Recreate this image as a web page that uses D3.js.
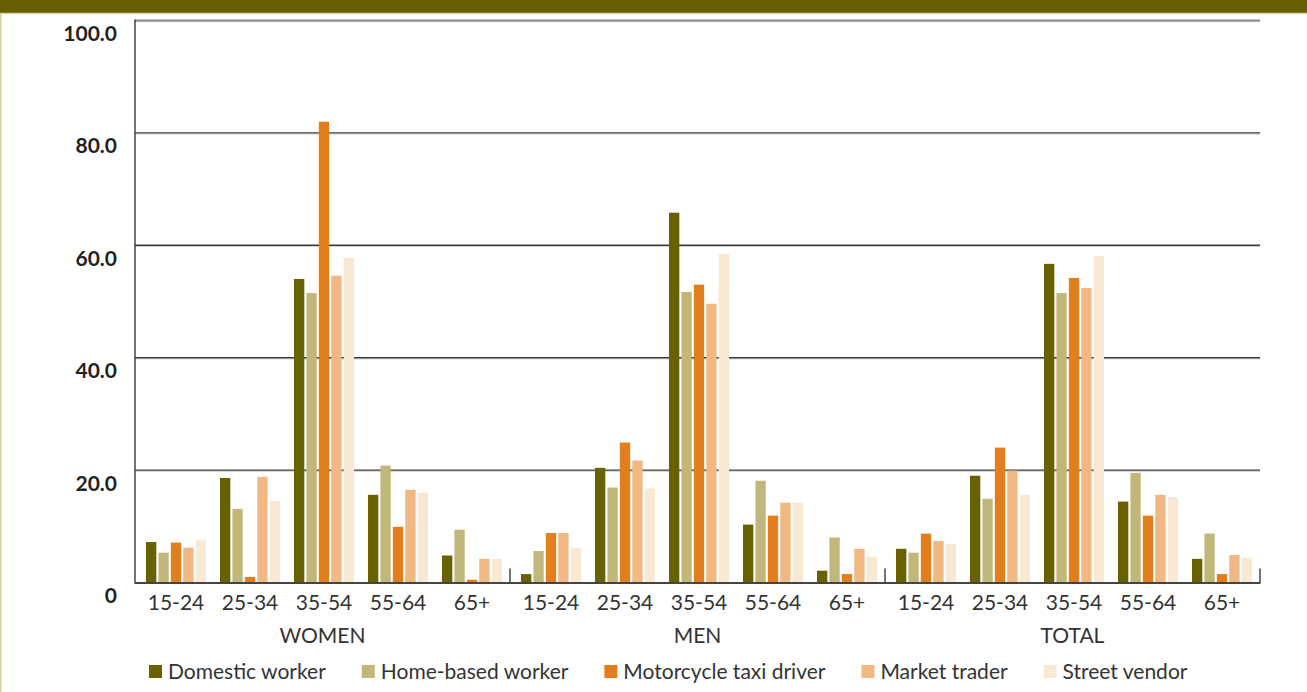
<!DOCTYPE html>
<html>
<head>
<meta charset="utf-8">
<script src="https://cdn.jsdelivr.net/npm/d3@7"></script>
<style>
  html, body { margin: 0; padding: 0; background: #fff; }
  svg { display: block; font-family: Lato, "Open Sans", sans-serif; }
</style>
</head>
<body>
<svg id="chart" width="1307" height="692"></svg>
<script>
const groups = ["WOMEN", "MEN", "TOTAL"];
const ages = ["15-24", "25-34", "35-54", "55-64", "65+"];
const seriesNames = ["Domestic worker", "Home-based worker", "Motorcycle taxi driver", "Market trader", "Street vendor"];
const seriesColors = ["#676100", "#c1b77a", "#e37e1d", "#f2b883", "#f8e9d5"];

// values ordered WOMEN(5 ages), MEN(5 ages), TOTAL(5 ages)
const domesticWorker   = [7.2, 18.6, 54.0, 15.6, 4.8,   1.5, 20.4, 65.8, 10.3, 2.1,   6.0, 19.0, 56.7, 14.4, 4.2];
const homeBasedWorker  = [5.3, 13.1, 51.5, 20.8, 9.4,   5.6, 16.9, 51.7, 18.1, 8.0,   5.3, 14.9, 51.5, 19.5, 8.7];
const motorcycleTaxi   = [7.1, 1.0, 82.0, 9.9, 0.5,     8.8, 24.9, 53.0, 11.9, 1.5,   8.7, 24.0, 54.2, 11.9, 1.5];
const marketTrader     = [6.2, 18.8, 54.6, 16.5, 4.2,   8.8, 21.7, 49.6, 14.2, 6.0,   7.4, 19.9, 52.4, 15.6, 4.9];
const streetVendor     = [7.6, 14.5, 57.8, 16.0, 4.2,   6.2, 16.7, 58.5, 14.2, 4.6,   6.9, 15.6, 58.1, 15.2, 4.4];
const yTicks = [0, 20, 40, 60, 80, 100];
const yTickLabels = ["0", "20.0", "40.0", "60.0", "80.0", "100.0"];

const seriesValues = [domesticWorker, homeBasedWorker, motorcycleTaxi, marketTrader, streetVendor];

const svg = d3.select("#chart");
const W = 1307, H = 692;

// header band and frame
svg.append("rect").attr("x", 0).attr("y", 0).attr("width", W).attr("height", 13).attr("fill", "#665e00");
svg.append("line").attr("x1", 0).attr("x2", W).attr("y1", 13.5).attr("y2", 13.5).attr("stroke", "#d9d4ab").attr("stroke-width", 1.5);
svg.append("line").attr("x1", 0.75).attr("x2", 0.75).attr("y1", 13).attr("y2", H).attr("stroke", "#d6d0a0").attr("stroke-width", 1.5);

const plotLeft = 135, plotRight = 1260, plotTop = 20.5, plotBottom = 582.5;

const x0 = d3.scaleBand().domain(groups).range([plotLeft, plotRight]);
const x1 = d3.scaleBand().domain(ages).range([11, 367]).paddingInner(14 / 74).paddingOuter(0);
const x2 = d3.scaleBand().domain(seriesNames).range([0, 60]).paddingInner(0.17).paddingOuter(0);
const y = d3.scaleLinear().domain([0, 100]).range([plotBottom, plotTop]);

// gridlines
const grid = svg.append("g");
grid.selectAll("line.light").data(yTicks.filter(d => d > 0)).join("line")
  .attr("x1", plotLeft).attr("x2", plotRight)
  .attr("y1", d => y(d) + 1.2).attr("y2", d => y(d) + 1.2)
  .attr("stroke", "#cfcfcf").attr("stroke-width", 1);
grid.selectAll("line.dark").data(yTicks.filter(d => d > 0)).join("line")
  .attr("class", "dark")
  .attr("x1", plotLeft).attr("x2", plotRight)
  .attr("y1", d => y(d)).attr("y2", d => y(d))
  .attr("stroke", d => d === 100 ? "#8a8a8a" : "#3a3a3a").attr("stroke-width", d => d === 100 ? 2 : 1.4);

// y axis with labels offset below gridlines
const yAxis = d3.axisLeft(y).tickValues(yTicks).tickSize(0)
  .tickFormat((d, i) => yTickLabels[i]);
const yg = svg.append("g").attr("transform", `translate(${plotLeft},0)`).call(yAxis);
yg.select(".domain").remove();
yg.selectAll("text")
  .attr("x", -18).attr("dy", "0.95em")
  .attr("font-family", "Lato, sans-serif").attr("font-size", 21).attr("font-weight", "bold")
  .attr("fill", "#222");

svg.append("line").attr("x1", plotLeft).attr("x2", plotLeft).attr("y1", plotTop - 1).attr("y2", plotBottom + 1)
  .attr("stroke", "#3a3a3a").attr("stroke-width", 1.4);

// bars
const data = [];
groups.forEach((g, gi) => {
  ages.forEach((a, ai) => {
    seriesNames.forEach((s, si) => {
      data.push({ group: g, age: a, series: s, si, value: seriesValues[si][gi * ages.length + ai] });
    });
  });
});

svg.append("g").selectAll("rect").data(data).join("rect")
  .attr("x", d => x0(d.group) + x1(d.age) + x2(d.series))
  .attr("y", d => y(d.value))
  .attr("width", x2.bandwidth())
  .attr("height", d => y(0) - y(d.value))
  .attr("fill", d => seriesColors[d.si]);

// baseline
svg.append("line").attr("x1", plotLeft).attr("x2", plotRight).attr("y1", plotBottom + 0.5).attr("y2", plotBottom + 0.5)
  .attr("stroke", "#444").attr("stroke-width", 2);

// group separator ticks
const sepX = groups.map(g => x0(g)).concat([plotRight]);
svg.append("g").selectAll("line").data(sepX.slice(1)).join("line")
  .attr("x1", d => d).attr("x2", d => d)
  .attr("y1", plotBottom - 14).attr("y2", plotBottom + 1)
  .attr("stroke", "#444").attr("stroke-width", 1.5);

// age labels
const labels = [];
groups.forEach(g => ages.forEach(a => labels.push({ g, a })));
svg.append("g").selectAll("text").data(labels).join("text")
  .attr("x", d => x0(d.g) + x1(d.a) + x1.bandwidth() / 2)
  .attr("y", 610)
  .attr("text-anchor", "middle")
  .attr("font-size", 21).attr("fill", "#333")
  .text(d => d.a);

// group labels
svg.append("g").selectAll("text").data(groups).join("text")
  .attr("x", d => x0(d) + x0.bandwidth() / 2)
  .attr("y", 643)
  .attr("text-anchor", "middle")
  .attr("font-size", 21).attr("fill", "#333")
  .text(d => d);

// legend
const legend = svg.append("g");
let lx = 149;
seriesNames.forEach((s, i) => {
  legend.append("rect").attr("x", lx).attr("y", 665).attr("width", 13).attr("height", 13).attr("fill", seriesColors[i]);
  const t = legend.append("text").attr("x", lx + 19).attr("y", 679)
    .attr("font-size", 21).attr("fill", "#333").text(s);
  const w = t.node().getComputedTextLength();
  lx = lx + 19 + w + 36;
});
</script>
</body>
</html>
